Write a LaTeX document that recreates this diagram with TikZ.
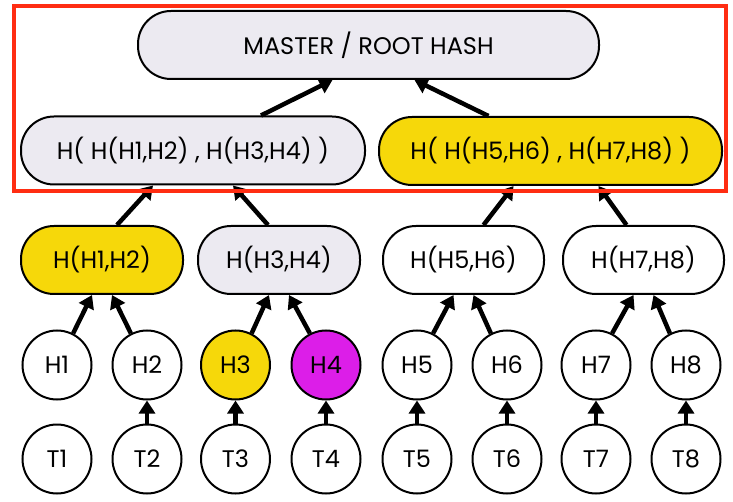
\documentclass[tikz,border=0pt]{standalone}
\usepackage{fontspec}
\setmainfont{Poppins}
\usetikzlibrary{arrows.meta,positioning}

\definecolor{hashgray}{HTML}{ECEAF1}
\definecolor{hashyellow}{HTML}{F6D80A}
\definecolor{hashpink}{HTML}{DC1EE8}
\definecolor{framered}{HTML}{FF2D12}

\tikzset{
    hashbox/.style={draw=black, line width=2pt, rounded corners=33pt,
        minimum height=68pt, inner sep=0pt, font=\fontsize{24}{28}\selectfont},
    leaf/.style={draw=black, circle, line width=2pt, minimum size=69pt,
        inner sep=0pt, font=\fontsize{24}{28}\selectfont},
    up/.style={-{Triangle[length=13pt,width=16pt]}, line width=4.5pt},
}

\begin{document}
\begin{tikzpicture}[x=1pt,y=-1pt]
    \useasboundingbox (0,0) rectangle (733,502);

    % root and top level
    \node[hashbox, fill=hashgray, minimum width=461pt] (root) at (368.5,45) {MASTER / ROOT HASH};
    \node[hashbox, fill=hashgray, minimum width=344pt] (L) at (193,150.5) {H( H(H1,H2) , H(H3,H4) )};
    \node[hashbox, fill=hashyellow, minimum width=343pt] (R) at (550.5,151) {H( H(H5,H6) , H(H7,H8) )};

    % pairs
    \node[hashbox, fill=hashyellow, minimum width=162pt] (H12) at (102,260) {H(H1,H2)};
    \node[hashbox, fill=hashgray, minimum width=162pt] (H34) at (279,260) {H(H3,H4)};
    \node[hashbox, fill=white, minimum width=161pt] (H56) at (463.5,260) {H(H5,H6)};
    \node[hashbox, fill=white, minimum width=161pt] (H78) at (643.5,260) {H(H7,H8)};

    % leaves
    \foreach \i/\x/\c in {1/57/white, 2/147/white, 3/235.5/hashyellow, 4/326/hashpink,
                          5/417/white, 6/507/white, 7/596/white, 8/686/white} {
        \node[leaf, fill=\c] (H\i) at (\x,365) {H\i};
        \node[leaf, fill=white] (T\i) at (\x,459) {T\i};
    }

    % T -> H
    \foreach \i in {2,...,8}
        \draw[up] (T\i) -- (H\i);
    % \draw[up] (T1) -- (H1);

    % H -> pairs
    \draw[up] (H1.63) -- ([xshift=-10pt]H12.south);
    \draw[up] (H2.117) -- ([xshift=10pt]H12.south);
    \draw[up] (H3.63) -- ([xshift=-10pt]H34.south);
    \draw[up] (H4.117) -- ([xshift=10pt]H34.south);
    \draw[up] (H5.63) -- ([xshift=-10pt]H56.south);
    \draw[up] (H6.117) -- ([xshift=10pt]H56.south);
    \draw[up] (H7.63) -- ([xshift=-10pt]H78.south);
    \draw[up] (H8.117) -- ([xshift=10pt]H78.south);

    % pairs -> top level
    \draw[up] ([xshift=15pt]H12.north) -- ([xshift=-40pt]L.south);
    \draw[up] ([xshift=-11pt]H34.north) -- ([xshift=40pt]L.south);
    \draw[up] ([xshift=20pt]H56.north) -- ([xshift=-37pt]R.south);
    \draw[up] ([xshift=-17pt]H78.north) -- ([xshift=48pt]R.south);

    % top level -> root
    \draw[up] ([xshift=68pt]L.north) -- ([xshift=-36pt]root.south);
    \draw[up] ([xshift=-62pt]R.north) -- ([xshift=46pt]root.south);

    % frame round the top two levels
    \draw[framered, line width=4pt] (14,6) rectangle (726,191);
\end{tikzpicture}
\end{document}
